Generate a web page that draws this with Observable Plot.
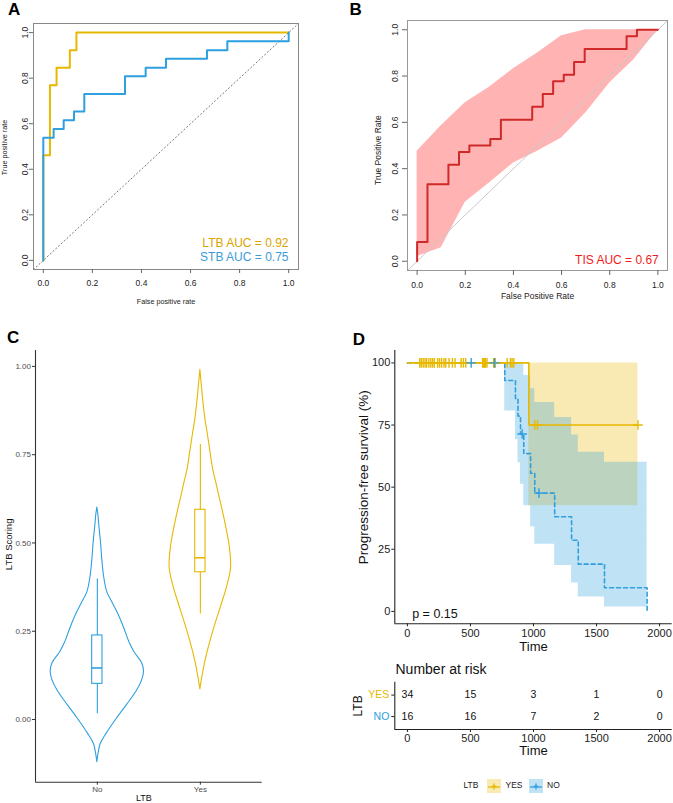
<!DOCTYPE html>
<html><head><meta charset="utf-8">
<script src="https://cdn.jsdelivr.net/npm/d3@7"></script>
<script src="https://cdn.jsdelivr.net/npm/@observablehq/plot@0.6"></script>
<style>
body{margin:0;background:#fff;font-family:"Liberation Sans",Arial,Helvetica,sans-serif;}
#root{position:relative;width:673px;height:803px;overflow:hidden;background:#fff;}
.lbl{position:absolute;font-weight:bold;font-size:17px;line-height:1;color:#000;}
.leg{position:absolute;font-size:8.5px;line-height:1;color:#222;white-space:nowrap;}
</style></head><body><div id="root"></div>
<script>
// ---------- Panel A: ROC (LTB vs STB) ----------
const rocTicks = [0, 0.2, 0.4, 0.6, 0.8, 1];
const rocDomain = [-0.04, 1.04];
const ltbFpr = [0, 0, 0.027, 0.027, 0.054, 0.054, 0.108, 0.108, 0.135, 0.135, 1];
const ltbTpr = [0, 0.462, 0.462, 0.769, 0.769, 0.846, 0.846, 0.923, 0.923, 1, 1];
const stbFpr = [0, 0, 0.042, 0.042, 0.083, 0.083, 0.125, 0.125, 0.167, 0.167, 0.333, 0.333, 0.417, 0.417, 0.5, 0.5, 0.667, 0.667, 0.75, 0.75, 1, 1];
const stbTpr = [0, 0.538, 0.538, 0.577, 0.577, 0.615, 0.615, 0.654, 0.654, 0.731, 0.731, 0.808, 0.808, 0.846, 0.846, 0.885, 0.885, 0.923, 0.923, 0.962, 0.962, 1];
const aucLabelsA = ["LTB AUC = 0.92", "STB AUC = 0.75"];

// ---------- Panel B: ROC (TIS) with CI band ----------
const tisFpr = [0, 0, 0.043, 0.043, 0.13, 0.13, 0.174, 0.174, 0.217, 0.217, 0.304, 0.304, 0.348, 0.348, 0.478, 0.478, 0.522, 0.522, 0.565, 0.565, 0.609, 0.609, 0.652, 0.652, 0.696, 0.696, 0.87, 0.87, 0.913, 0.913, 1];
const tisTpr = [0, 0.083, 0.083, 0.333, 0.333, 0.417, 0.417, 0.472, 0.472, 0.5, 0.5, 0.528, 0.528, 0.611, 0.611, 0.667, 0.667, 0.722, 0.722, 0.778, 0.778, 0.806, 0.806, 0.861, 0.861, 0.917, 0.917, 0.972, 0.972, 1, 1];
const ciFpr = [0, 0.1, 0.2, 0.3, 0.4, 0.5, 0.6, 0.7, 0.8, 0.9, 1];
const ciUpper = [0.475, 0.585, 0.685, 0.752, 0.832, 0.9, 0.974, 1, 1, 1, 1];
const ciLower = [0.02, 0.058, 0.255, 0.338, 0.424, 0.475, 0.532, 0.64, 0.77, 0.87, 1];
const aucLabelB = "TIS AUC = 0.67";

// ---------- Panel C: violin + box ----------
const groupsC = ["No", "Yes"];
const scoreTicks = [0, 0.25, 0.5, 0.75, 1];
const violinNoY = [-0.121, -0.10, -0.07, -0.04, 0.00, 0.04, 0.08, 0.11, 0.135, 0.16, 0.19, 0.215, 0.26, 0.30, 0.33, 0.36, 0.40, 0.45, 0.50, 0.55, 0.58, 0.60];
const violinNoW = [0, 0.010, 0.032, 0.091, 0.184, 0.285, 0.382, 0.434, 0.453, 0.434, 0.362, 0.317, 0.259, 0.201, 0.149, 0.097, 0.068, 0.049, 0.036, 0.019, 0.010, 0];
const violinYesY = [0.085, 0.12, 0.16, 0.20, 0.26, 0.32, 0.375, 0.43, 0.49, 0.57, 0.62, 0.67, 0.71, 0.76, 0.81, 0.85, 0.90, 0.94, 0.99];
const violinYesW = [0, 0.019, 0.045, 0.078, 0.136, 0.201, 0.259, 0.298, 0.285, 0.233, 0.194, 0.155, 0.123, 0.097, 0.071, 0.049, 0.029, 0.016, 0];
const boxLo  = [0.016, 0.299];
const boxQ1  = [0.101, 0.417];
const boxMed = [0.146, 0.458];
const boxQ3  = [0.238, 0.594];
const boxHi  = [0.398, 0.779];

// ---------- Panel D: Kaplan-Meier ----------
const timeTicks = [0, 500, 1000, 1500, 2000];
const survTicks = [0, 25, 50, 75, 100];
const yesTimes = [0, 963, 1828];
const yesSurv  = [100, 75, 75];
const yesUpper = [100, 100, 100];
const yesLower = [100, 42.5, 42.5];
const noTimes = [0, 772, 857, 877, 897, 923, 977, 1010, 1168, 1302, 1355, 1563, 1901];
const noSurv  = [100, 92.9, 85.7, 78.6, 71.4, 63.5, 55.6, 47.6, 38.1, 28.6, 19.0, 9.5, 0];
const noUpper = [100, 100, 100, 100, 100, 94.9, 89.6, 84.1, 78.0, 71.0, 64.0, 60.0, 60.0];
const noLower = [100, 80.6, 69.1, 59.8, 51.2, 42.5, 34.1, 27.0, 18.5, 11.4, 5.8, 1.8, 1.8];
const yesCensorT = [98, 110, 125, 140, 152, 170, 186, 200, 213, 240, 255, 271, 290, 304, 330, 357, 378, 426, 444, 463, 596, 605, 612, 620, 631, 684, 697, 791, 817, 830, 844, 1010, 1032, 1828];
const yesCensorS = yesCensorT.map(t => t < 963 ? 100 : 75);
const noCensorT = [506, 690, 910, 1043];
const noCensorS = [100, 100, 71.4, 47.6];
const pText = "p = 0.15";

// ---------- Risk table ----------
const riskGroups = ["YES", "NO"];
const riskYes = [34, 15, 3, 1, 0];
const riskNo  = [16, 16, 7, 2, 0];

const gold = "#E7B800", blue = "#2E9FDF";
const font = "'Liberation Sans', Arial, Helvetica, sans-serif";
const root = document.getElementById("root");
function place(el, left, top) {
  el.style.position = "absolute"; el.style.left = left + "px"; el.style.top = top + "px";
  root.appendChild(el);
}
const f1 = d3.format(".1f"), f2 = d3.format(".2f"), fInt = d => String(d);
const baseStyle = {fontFamily: font, background: "transparent", color: "#222", overflow: "visible"};

// Panel A
const A = Plot.plot({
  width: 330, height: 310, marginLeft: 33, marginRight: 32, marginTop: 23, marginBottom: 41,
  x: {domain: rocDomain}, y: {domain: rocDomain},
  style: baseStyle,
  marks: [
    Plot.line(rocDomain, {x: d => d, y: d => d, stroke: "#777", strokeWidth: 1, strokeDasharray: "1.2,2.6"}),
    Plot.line(ltbFpr, {x: d => d, y: (d, i) => ltbTpr[i], stroke: gold, strokeWidth: 2}),
    Plot.line(stbFpr, {x: d => d, y: (d, i) => stbTpr[i], stroke: blue, strokeWidth: 2}),
    Plot.frame({stroke: "#888"}),
    Plot.axisX(rocTicks, {tickSize: 4, tickPadding: 6, fontSize: 8.5, tickFormat: f1, label: null, stroke: "#666"}),
    Plot.axisY(rocTicks, {tickSize: 4, tickPadding: 2, tickRotate: -90, fontSize: 8.5, tickFormat: f1, label: null, stroke: "#666"}),
    Plot.text(["False positive rate"], {frameAnchor: "bottom", dy: 31.7, fontSize: 7.2, textAnchor: "middle", lineAnchor: "middle"}),
    Plot.text(["True positive rate"], {frameAnchor: "left", dx: -28.5, dy: 1, rotate: -90, fontSize: 7.2, textAnchor: "middle", lineAnchor: "middle"}),
    Plot.text([aucLabelsA[0]], {frameAnchor: "bottom-right", dx: -10, dy: -26, textAnchor: "end", lineAnchor: "middle", fontSize: 12, fill: "#D9A400"}),
    Plot.text([aucLabelsA[1]], {frameAnchor: "bottom-right", dx: -10, dy: -12, textAnchor: "end", lineAnchor: "middle", fontSize: 12, fill: "#3B9BDB"})
  ]
});
place(A, 0, 0);

// Panel B
const B = Plot.plot({
  width: 343, height: 310, marginLeft: 77, marginRight: 6, marginTop: 20, marginBottom: 40,
  x: {domain: rocDomain}, y: {domain: rocDomain},
  style: baseStyle,
  marks: [
    Plot.areaY(ciFpr, {x: d => d, y1: (d, i) => ciLower[i], y2: (d, i) => ciUpper[i], fill: "#FFB3B3"}),
    Plot.line(rocDomain, {x: d => d, y: d => d, stroke: "#C8C8C8", strokeWidth: 1}),
    Plot.line(tisFpr, {x: d => d, y: (d, i) => tisTpr[i], stroke: "#CF2A2A", strokeWidth: 2}),
    Plot.frame({stroke: "#999"}),
    Plot.axisX(rocTicks, {tickSize: 5, tickPadding: 6, fontSize: 8.5, tickFormat: f1, label: null, stroke: "#666"}),
    Plot.axisY(rocTicks, {tickSize: 5, tickPadding: 5, tickRotate: -90, fontSize: 8.5, tickFormat: f1, label: null, stroke: "#666"}),
    Plot.text(["False Positive Rate"], {frameAnchor: "bottom", dy: 26, fontSize: 8.5, textAnchor: "middle", lineAnchor: "middle"}),
    Plot.text(["True Positive Rate"], {frameAnchor: "left", dx: -29, dy: 4.7, rotate: -90, fontSize: 8.5, textAnchor: "middle", lineAnchor: "middle"}),
    Plot.text([aucLabelB], {frameAnchor: "bottom-right", dx: -8.7, dy: -10.7, textAnchor: "end", lineAnchor: "middle", fontSize: 12, fill: "#EE1C1C"})
  ]
});
place(B, 330, 0);

// Panel C
const violins = [
  {pos: 1, ys: violinNoY, ws: violinNoW, color: blue},
  {pos: 2, ys: violinYesY, ws: violinYesW, color: gold}
];
const boxes = groupsC.map((g, i) => ({pos: i + 1, lo: boxLo[i], q1: boxQ1[i], med: boxMed[i], q3: boxQ3[i], hi: boxHi[i], color: i === 0 ? blue : gold}));
const boxHalf = 0.05;
const cDomainX = [0.4, 2.6], cDomainY = [-0.1775, 1.045];
const C = Plot.plot({
  width: 340, height: 483, marginLeft: 35, marginRight: 78.3, marginTop: 30, marginBottom: 21.3,
  x: {domain: cDomainX}, y: {domain: cDomainY},
  style: baseStyle,
  marks: [
    ...violins.map(v => Plot.areaX(v.ys, {y: d => d, x1: (d, i) => v.pos - v.ws[i], x2: (d, i) => v.pos + v.ws[i], fill: "none", stroke: v.color, strokeWidth: 1.1, curve: "catmull-rom"})),
    ...boxes.map(b => Plot.ruleX([b], {x: "pos", y1: "lo", y2: "q1", stroke: b.color, strokeWidth: 1.1})),
    ...boxes.map(b => Plot.ruleX([b], {x: "pos", y1: "q3", y2: "hi", stroke: b.color, strokeWidth: 1.1})),
    ...boxes.map(b => Plot.rect([b], {x1: d => d.pos - boxHalf, x2: d => d.pos + boxHalf, y1: "q1", y2: "q3", fill: "none", stroke: b.color, strokeWidth: 1.1})),
    ...boxes.map(b => Plot.ruleY([b], {y: "med", x1: d => d.pos - boxHalf, x2: d => d.pos + boxHalf, stroke: b.color, strokeWidth: 1.6})),
    Plot.ruleX([cDomainX[0]], {stroke: "#333", strokeWidth: 1.1}),
    Plot.ruleY([cDomainY[0]], {stroke: "#333", strokeWidth: 1.1}),
    Plot.axisY(scoreTicks, {tickSize: 3, tickPadding: 1.5, fontSize: 8, tickFormat: f2, label: null, fill: "#4D4D4D", stroke: "#333"}),
    Plot.axisX([1, 2], {tickSize: 3, tickPadding: 1.5, fontSize: 8, tickFormat: d => groupsC[d - 1], label: null, fill: "#4D4D4D", stroke: "#333"}),
    Plot.text(["LTB"], {frameAnchor: "bottom", dx: -5, dy: 15.5, fontSize: 9, textAnchor: "middle", lineAnchor: "middle", fill: "#111"}),
    Plot.text(["LTB Scoring"], {frameAnchor: "left", dx: -27, dy: -22, rotate: -90, fontSize: 9.5, textAnchor: "middle", lineAnchor: "middle", fill: "#111"})
  ]
});
place(C, 0, 320);

// Panel D
const dDomainX = [-100, 2100], dDomainY = [-5, 105];
const D = Plot.plot({
  width: 333, height: 340, marginLeft: 54.3, marginRight: 1.3, marginTop: 30, marginBottom: 36.7,
  x: {domain: dDomainX}, y: {domain: dDomainY},
  style: baseStyle,
  marks: [
    Plot.areaY(yesTimes, {x: d => d, y1: (d, i) => yesLower[i], y2: (d, i) => yesUpper[i], curve: "step-after", fill: gold, fillOpacity: 0.3}),
    Plot.areaY(noTimes, {x: d => d, y1: (d, i) => noLower[i], y2: (d, i) => noUpper[i], curve: "step-after", fill: blue, fillOpacity: 0.3}),
    Plot.line(noTimes, {x: d => d, y: (d, i) => noSurv[i], curve: "step-after", stroke: blue, strokeWidth: 1.6, strokeDasharray: "4,3"}),
    Plot.line(yesTimes, {x: d => d, y: (d, i) => yesSurv[i], curve: "step-after", stroke: gold, strokeWidth: 1.6}),
    Plot.dot(yesCensorT, {x: d => d, y: (d, i) => yesCensorS[i], symbol: "plus", r: 3.2, stroke: gold, strokeWidth: 1.4}),
    Plot.dot(noCensorT, {x: d => d, y: (d, i) => noCensorS[i], symbol: "plus", r: 3.2, stroke: blue, strokeWidth: 1.4}),
    Plot.ruleX([dDomainX[0]], {stroke: "#222", strokeWidth: 1.1}),
    Plot.ruleY([dDomainY[0]], {stroke: "#222", strokeWidth: 1.1}),
    Plot.axisY(survTicks, {tickSize: 3, tickPadding: 1.5, fontSize: 11, label: null, fill: "#222", stroke: "#222"}),
    Plot.axisX(timeTicks, {tickSize: 3, tickPadding: 2.5, fontSize: 11, tickFormat: fInt, label: null, fill: "#222", stroke: "#222"}),
    Plot.text(["Time"], {frameAnchor: "bottom", dy: 22.7, fontSize: 13, textAnchor: "middle", lineAnchor: "middle", fill: "#111"}),
    Plot.text(["Progression-free survival (%)"], {frameAnchor: "left", dx: -31, dy: -10, rotate: -90, fontSize: 13.5, textAnchor: "middle", lineAnchor: "middle", fill: "#111"}),
    Plot.text([pText], {frameAnchor: "bottom-left", dx: 17.4, dy: -10.3, fontSize: 12.5, textAnchor: "start", lineAnchor: "middle", fill: "#111"})
  ]
});
place(D, 340, 320);

// Risk table
const rDomainY = [2.6, 0.4];
const R = Plot.plot({
  width: 333, height: 110, marginLeft: 54.3, marginRight: 1.3, marginTop: 26.7, marginBottom: 36,
  x: {domain: dDomainX}, y: {domain: rDomainY},
  style: baseStyle,
  marks: [
    Plot.ruleX([dDomainX[0]], {stroke: "#222", strokeWidth: 1.1}),
    Plot.ruleY([rDomainY[0]], {stroke: "#222", strokeWidth: 1.1}),
    Plot.axisX(timeTicks, {tickSize: 3, tickPadding: 2, fontSize: 11, tickFormat: fInt, label: null, fill: "#222", stroke: "#222"}),
    Plot.axisY([1, 2], {tickSize: 3, tickFormat: () => "", label: null, stroke: "#222"}),
    Plot.text([riskGroups[0]], {frameAnchor: "left", y: () => 1, dx: -5.5, textAnchor: "end", lineAnchor: "middle", fontSize: 10.5, fill: gold}),
    Plot.text([riskGroups[1]], {frameAnchor: "left", y: () => 2, dx: -5.5, textAnchor: "end", lineAnchor: "middle", fontSize: 10.5, fill: blue}),
    Plot.text(timeTicks, {x: d => d, y: () => 1, text: (d, i) => String(riskYes[i]), fontSize: 10.5, lineAnchor: "middle", fill: "#111"}),
    Plot.text(timeTicks, {x: d => d, y: () => 2, text: (d, i) => String(riskNo[i]), fontSize: 10.5, lineAnchor: "middle", fill: "#111"}),
    Plot.text(["Number at risk"], {frameAnchor: "top-left", dx: 0.7, dy: -12.7, fontSize: 14, textAnchor: "start", lineAnchor: "middle", fill: "#111"}),
    Plot.text(["Time"], {frameAnchor: "bottom", dy: 21.7, fontSize: 13, textAnchor: "middle", lineAnchor: "middle", fill: "#111"}),
    Plot.text(["LTB"], {frameAnchor: "left", dx: -36.3, rotate: -90, fontSize: 12, textAnchor: "middle", lineAnchor: "middle", fill: "#111"})
  ]
});
place(R, 340, 655);

// Panel letters
[["A", 8, 1], ["B", 349.5, 1], ["C", 7, 329], ["D", 352.8, 331]].forEach(([t, x, y]) => {
  const d = document.createElement("div"); d.className = "lbl"; d.textContent = t; place(d, x, y);
});

// Legend
function legText(t, cx) {
  const s = document.createElement("div"); s.className = "leg"; s.textContent = t;
  place(s, 0, 781); s.style.left = (cx - s.offsetWidth / 2) + "px";
}
function legKey(x, color) {
  const ns = "http://www.w3.org/2000/svg";
  const svg = document.createElementNS(ns, "svg");
  svg.setAttribute("width", 14); svg.setAttribute("height", 14);
  svg.innerHTML = `<rect x="0" y="0" width="14" height="14" fill="${color}" fill-opacity="0.3"/>` +
    `<line x1="1" y1="8" x2="13" y2="8" stroke="${color}" stroke-width="1.3"/>` +
    `<line x1="7" y1="4.5" x2="7" y2="10.5" stroke="${color}" stroke-width="1.3"/>` +
    `<line x1="4.5" y1="7.3" x2="9.5" y2="7.3" stroke="${color}" stroke-width="1.3"/>`;
  place(svg, x, 779);
}
legText("LTB", 471);
legKey(486.5, gold);
legText("YES", 514);
legKey(529, blue);
legText("NO", 553.5);
</script></body></html>
